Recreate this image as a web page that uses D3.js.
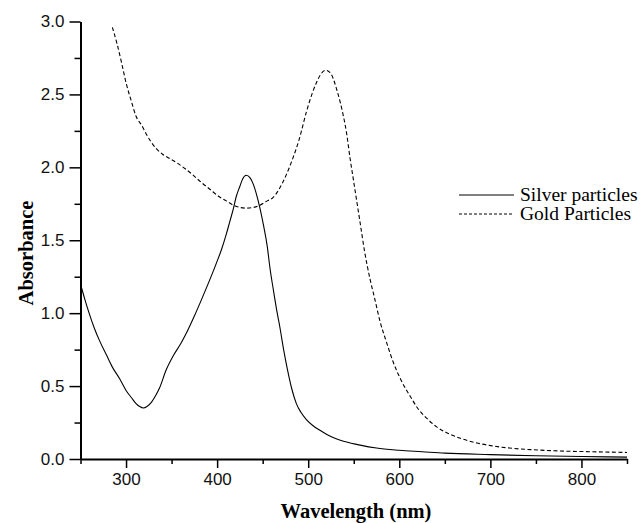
<!DOCTYPE html>
<html>
<head>
<meta charset="utf-8">
<script src="https://cdn.jsdelivr.net/npm/d3@7"></script>
<style>
  body { margin: 0; background: #fff; }
  .tick text { font-family: "Liberation Sans", Arial, sans-serif; font-size: 17px; fill: #111; }
  .axis path, .axis line { stroke: #000; }
</style>
</head>
<body>
<div id="chart"></div>
<script>
// silver particles spectrum
let silverWl = [250,255,260,265,271,278,285,293,300,306,311,315,319,323,328,333,337,344,352,360,366,375,384,392,399,405,410,414,418,421,425,428,432,436,440,443,447,451,455,458,462,466,469,473,477,482,487,492,498,505,512,520,530,540,557,575,600,625,650,700,750,800,850];
let silverAbs = [1.20,1.09,0.99,0.90,0.81,0.72,0.63,0.55,0.47,0.42,0.38,0.36,0.35,0.36,0.39,0.44,0.49,0.61,0.71,0.79,0.86,0.98,1.11,1.23,1.34,1.44,1.54,1.63,1.72,1.80,1.87,1.92,1.946,1.93,1.88,1.82,1.72,1.60,1.46,1.31,1.15,1.00,0.90,0.75,0.62,0.48,0.38,0.32,0.27,0.23,0.20,0.17,0.14,0.12,0.095,0.075,0.06,0.05,0.04,0.03,0.022,0.017,0.013];

// gold particles spectrum
let goldWl = [285,290,295,300,306,311,317,323,328,333,340,348,356,365,373,382,392,402,410,418,425,432,440,447,455,461,468,476,483,490,498,504,509,514,519,524,528,531,535,538,542,546,550,553,557,562,568,573,579,586,593,602,612,620,630,641,652,668,685,702,721,748,776,810,850];
let goldAbs = [2.96,2.85,2.72,2.58,2.45,2.35,2.29,2.22,2.17,2.13,2.09,2.06,2.03,1.99,1.95,1.90,1.85,1.80,1.77,1.74,1.725,1.72,1.725,1.74,1.77,1.79,1.85,1.95,2.06,2.19,2.38,2.50,2.58,2.64,2.665,2.65,2.60,2.54,2.45,2.37,2.24,2.06,1.90,1.78,1.62,1.42,1.23,1.10,0.94,0.80,0.67,0.54,0.43,0.35,0.28,0.22,0.18,0.14,0.11,0.09,0.075,0.063,0.055,0.05,0.045];

let xTicks = [300,400,500,600,700,800];
let xMinor = [250,350,450,550,650,750,850];
let yTicks = [0,0.5,1.0,1.5,2.0,2.5,3.0];
let yMinor = [0.25,0.75,1.25,1.75,2.25,2.75];
let seriesNames = ["Silver particles", "Gold Particles"];

let width = 644, height = 523;
let svg = d3.select("#chart").append("svg")
    .attr("width", width)
    .attr("height", height);

let x = d3.scaleLinear().domain([250, 850]).range([80.5, 627]);
let y = d3.scaleLinear().domain([0, 3]).range([459, 21.5]);

//minor ticks first so axis lines cover them
svg.append("g")
    .attr("class", "axis")
    .attr("transform", "translate(0,459)")
    .call(d3.axisBottom(x).tickValues(xMinor).tickSize(5).tickFormat(""))
    .call(g => g.select(".domain").remove())
    .selectAll("line").attr("stroke-width", 1.5);

svg.append("g")
    .attr("class", "axis")
    .attr("transform", "translate(80.5,0)")
    .call(d3.axisLeft(y).tickValues(yMinor).tickSize(6).tickFormat(""))
    .call(g => g.select(".domain").remove())
    .selectAll("line").attr("stroke-width", 1.5);

//major x axis
let xAxis = svg.append("g")
    .attr("class", "axis")
    .attr("transform", "translate(0,459)")
    .call(d3.axisBottom(x).tickValues(xTicks).tickSize(9).tickSizeOuter(0).tickPadding(5).tickFormat(d3.format("d")));
xAxis.select(".domain").attr("stroke-width", 2);
xAxis.selectAll(".tick line").attr("stroke-width", 1.5);

//major y axis
let yAxis = svg.append("g")
    .attr("class", "axis")
    .attr("transform", "translate(80.5,0)")
    .call(d3.axisLeft(y).tickValues(yTicks).tickSize(11).tickSizeOuter(0).tickPadding(5).tickFormat(d3.format(".1f")));
yAxis.select(".domain").attr("stroke-width", 2);
yAxis.selectAll(".tick line").attr("stroke-width", 1.5);

//curves
let line = d3.line()
    .x(d => x(d[0]))
    .y(d => y(d[1]))
    .curve(d3.curveMonotoneX);

svg.append("path")
    .datum(d3.zip(silverWl, silverAbs))
    .attr("fill", "none")
    .attr("stroke", "#000")
    .attr("stroke-width", 1.1)
    .attr("d", line);

svg.append("path")
    .datum(d3.zip(goldWl, goldAbs))
    .attr("fill", "none")
    .attr("stroke", "#000")
    .attr("stroke-width", 1.1)
    .attr("stroke-dasharray", "4,2.5")
    .attr("d", line);

//axis titles
svg.append("text")
    .attr("x", 356)
    .attr("y", 518)
    .attr("text-anchor", "middle")
    .style("font-family", "'Liberation Serif', 'Times New Roman', serif")
    .style("font-weight", "bold")
    .style("font-size", "20.5px")
    .text("Wavelength (nm)");

svg.append("text")
    .attr("transform", "translate(33,253) rotate(-90)")
    .attr("text-anchor", "middle")
    .style("font-family", "'Liberation Serif', 'Times New Roman', serif")
    .style("font-weight", "bold")
    .style("font-size", "20.5px")
    .text("Absorbance");

//legend
let legend = svg.append("g");
seriesNames.forEach(function(name, i) {
    let ly = 195 + i * 19;
    legend.append("line")
        .attr("x1", 459).attr("x2", 514)
        .attr("y1", ly).attr("y2", ly)
        .attr("stroke", "#000")
        .attr("stroke-width", 1)
        .attr("stroke-dasharray", i === 1 ? "3,2" : null);
    legend.append("text")
        .attr("x", 520)
        .attr("y", ly + 6)
        .style("font-family", "'Liberation Serif', 'Times New Roman', serif")
        .style("font-size", "19.5px")
        .text(name);
});
</script>
</body>
</html>
